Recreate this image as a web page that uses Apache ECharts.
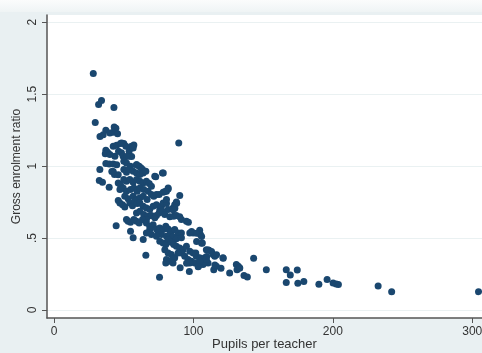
<!DOCTYPE html>
<html>
<head>
<meta charset="utf-8">
<script src="https://cdn.jsdelivr.net/npm/echarts@6/dist/echarts.min.js"></script>
<style>
html,body{margin:0;padding:0;background:#e9f0f2;}
#chart{width:482px;height:353px;}
</style>
</head>
<body>
<div id="chart"></div>
<script>
// Pupils per teacher (x) and gross enrolment ratio (y)
const pupils = [
28.2,32.0,34.1,43.0,29.6,89.5,32.9,32.5,34.8,39.6,44.6,65.9,75.7,
90.5,97.1,103.6,114.6,119.8,126.0,130.8,132.2,131.3,133.2,136.3,138.7,143.2,152.3,166.6,169.5,174.5,166.6,174.9,179.2,190.0,195.9,200.2,202.4,204.0,232.5,242.2,304.5,
37.2,43.2,44.4,42.5,45.6,33.0,35.3,40.1,
42.5,44.9,47.7,50.1,51.6,55.6,57.3,46.3,48.4,49.6,43.7,54.4,37.2,38.4,36.8,40.1,53.9,48.5,56.8,55.7,52.1,
37.2,39.6,42.5,50.1,52.0,54.9,59.2,61.1,62.5,63.5,72.3,77.8,41.5,43.4,50.1,52.0,53.5,56.8,59.2,61.6,64.0,65.9,45.0,59.3,46.1,42.5,
46.1,47.7,50.1,52.0,54.4,56.8,59.2,61.6,64.0,66.3,68.3,69.9,47.3,49.6,52.0,54.9,57.3,59.7,61.6,64.4,67.5,69.9,71.6,73.5,75.4,80.7,81.9,78.3,50.8,53.2,56.8,59.2,61.6,64.0,66.8,90.2,73.0,78.4,81.9,79.6,
46.1,47.3,49.2,50.8,54.4,56.3,58.0,59.7,61.6,64.0,66.3,68.7,71.1,73.5,75.9,77.1,78.3,80.7,81.9,85.4,87.8,86.6,59.2,61.6,64.4,67.5,69.9,72.3,73.5,75.4,77.8,79.5,83.1,85.9,87.8,90.2,91.4,66.3,80.7,88.0,86.7,85.5,
52.0,53.2,54.9,57.3,59.2,61.1,63.5,66.3,68.7,71.1,73.5,75.9,78.3,80.2,81.9,84.2,86.6,89.0,91.4,95.0,96.4,97.4,99.8,104.5,105.0,68.7,74.7,77.1,80.7,83.1,85.4,87.8,91.4,54.9,56.8,64.0,69.9,66.3,73.5,98.7,102.3,102.3,105.9,
75.9,78.3,80.2,81.9,84.2,85.9,87.8,90.2,92.6,95.0,97.4,99.8,102.1,104.5,109.3,111.2,106.4,79.5,81.9,84.2,86.6,91.4,93.8,80.7,83.1,85.4,96.2,98.6,101.7,114.1,115.3,108.1,110.5,101.0,97.4,80.2,85.4,89.0,105.9,110.6,113.0,116.6,121.4,109.5,108.2,95.1,
106.9,109.3,116.5,121.2,133.2,104.5,103.4,115.4
];
const ger = [
1.643,1.428,1.455,1.407,1.302,1.161,0.976,0.900,0.888,0.853,0.586,0.380,0.227,
0.294,0.267,0.304,0.280,0.290,0.257,0.315,0.304,0.280,0.292,0.239,0.229,0.359,0.280,0.280,0.243,0.278,0.190,0.185,0.197,0.178,0.211,0.188,0.181,0.176,0.167,0.127,0.127,
1.249,1.272,1.263,1.235,1.224,1.205,1.217,1.229,
1.138,1.145,1.156,1.156,1.138,1.138,1.147,1.103,1.092,1.068,1.068,1.068,1.110,1.096,1.085,1.080,1.103,1.160,1.125,1.066,1.066,
1.017,1.015,1.015,1.034,1.022,0.999,1.010,0.999,0.987,0.976,0.929,0.952,0.962,0.941,0.976,0.957,0.976,0.964,0.952,0.941,0.952,0.964,1.010,1.010,0.939,0.962,
0.883,0.871,0.906,0.895,0.906,0.888,0.906,0.895,0.883,0.895,0.878,0.860,0.837,0.848,0.825,0.837,0.848,0.825,0.848,0.837,0.825,0.802,0.790,0.802,0.802,0.825,0.841,0.818,0.790,0.772,0.790,0.767,0.779,0.790,0.767,0.795,0.925,0.951,0.847,0.823,
0.760,0.744,0.732,0.716,0.744,0.725,0.756,0.739,0.744,0.721,0.709,0.698,0.721,0.732,0.698,0.721,0.744,0.739,0.698,0.709,0.751,0.732,0.674,0.686,0.663,0.651,0.656,0.640,0.656,0.674,0.686,0.663,0.647,0.651,0.656,0.647,0.628,0.628,0.767,0.742,0.707,0.696,
0.628,0.616,0.609,0.628,0.616,0.605,0.628,0.605,0.582,0.593,0.563,0.570,0.559,0.582,0.563,0.547,0.559,0.535,0.535,0.616,0.609,0.535,0.535,0.554,0.524,0.559,0.535,0.524,0.512,0.524,0.508,0.494,0.501,0.547,0.501,0.489,0.524,0.535,0.512,0.545,0.533,0.475,0.510,
0.477,0.466,0.454,0.489,0.470,0.454,0.443,0.431,0.419,0.443,0.408,0.396,0.373,0.362,0.419,0.415,0.466,0.419,0.396,0.385,0.362,0.396,0.373,0.350,0.338,0.355,0.350,0.338,0.396,0.385,0.373,0.362,0.327,0.327,0.327,0.327,0.327,0.396,0.464,0.417,0.406,0.383,0.360,0.371,0.336,0.325,
0.315,0.350,0.304,0.362,0.292,0.338,0.301,0.313
];
const xTicks = [0, 100, 200, 300];
const yTicks = [0, 0.5, 1, 1.5, 2];
const xTitle = 'Pupils per teacher';
const yTitle = 'Gross enrolment ratio';

const points = pupils.map((p, i) => [p, ger[i]]);
const fmtY = v => { const s = String(+(+v).toFixed(2)); return s.startsWith('0.') ? s.slice(1) : s; };

const chart = echarts.init(document.getElementById('chart'), null, {renderer: 'canvas'});
chart.setOption({
  backgroundColor: '#e9f0f2',
  animation: false,
  textStyle: {fontFamily: 'Liberation Sans, Arial, sans-serif'},
  graphic: [{
    type: 'rect', left: 0, top: 0, z: -10,
    shape: {width: 482, height: 12},
    style: {fill: new echarts.graphic.LinearGradient(0, 0, 0, 1, [{offset: 0, color: '#fbfcfc'}, {offset: 1, color: '#eff4f5'}])}
  }],
  grid: {left: 47, right: 0, top: 15, bottom: 35, show: true, backgroundColor: '#ffffff', borderWidth: 0, outerBoundsMode: 'none', containLabel: false},
  xAxis: {
    type: 'value', min: -5, max: 307,
    name: xTitle, nameLocation: 'middle', nameGap: 20, nameMoveOverlap: false,
    nameTextStyle: {color: '#333', fontSize: 13},
    axisLine: {show: true, onZero: false, lineStyle: {color: '#555', width: 1.5}},
    axisTick: {show: true, length: 5, lineStyle: {color: '#555'}, customValues: xTicks},
    axisLabel: {color: '#333', fontSize: 12, margin: 8, customValues: xTicks},
    splitLine: {show: false}
  },
  yAxis: {
    type: 'value', min: -0.056, max: 2.05,
    name: yTitle, nameLocation: 'middle', nameGap: 24, nameMoveOverlap: false,
    nameTextStyle: {color: '#333', fontSize: 12},
    axisLine: {show: true, onZero: false, lineStyle: {color: '#555', width: 1.5}},
    axisTick: {show: true, length: 5, lineStyle: {color: '#555'}, customValues: yTicks},
    axisLabel: {color: '#333', fontSize: 12, margin: 8, rotate: 90, customValues: yTicks, formatter: fmtY},
    splitLine: {show: true, lineStyle: {color: '#eaf1f2', width: 1}}
  },
  series: [{
    type: 'scatter',
    data: points,
    symbol: 'circle',
    symbolSize: 7,
    itemStyle: {color: '#1a476f', opacity: 1},
    clip: false
  }]
});
</script>
</body>
</html>
